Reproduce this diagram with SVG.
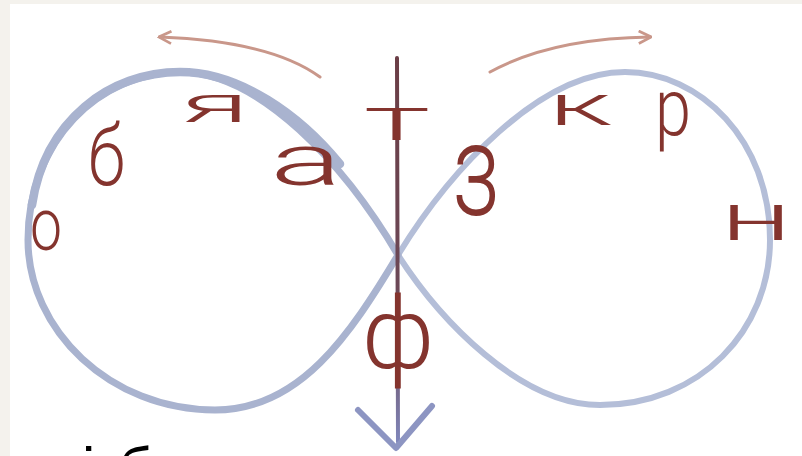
<svg xmlns="http://www.w3.org/2000/svg" width="802" height="456" viewBox="0 0 802 456">
  <style>
    .ltr { font-family: Roboto, "Open Sans", "Liberation Sans", sans-serif; font-weight: 300; fill: #84342e; }
    .loop { fill: none; stroke-linecap: round; stroke-linejoin: round; }
    .dir { fill: none; stroke: #c9978a; stroke-width: 3; stroke-linecap: round; }
  </style>
  <defs>
    <linearGradient id="axisGrad" x1="0" y1="60" x2="0" y2="445" gradientUnits="userSpaceOnUse">
      <stop offset="0" stop-color="#6b3e46"/>
      <stop offset="0.7" stop-color="#6c4a5a"/>
      <stop offset="1" stop-color="#8088bd"/>
    </linearGradient>
    <marker id="head" viewBox="0 0 12 12" refX="10" refY="6" markerWidth="5" markerHeight="5" orient="auto" markerUnits="strokeWidth">
      <path d="M1,1 L11,6 L1,11" fill="none" stroke="#c9978a" stroke-width="2.2"/>
    </marker>
  </defs>

  <rect x="0" y="0" width="802" height="456" fill="#f4f2ed"/>
  <rect x="10" y="4" width="792" height="452" fill="#ffffff"/>

  <g id="infinity-loop">
    <path class="loop" stroke="#b4bed8" stroke-width="6"
      d="M398,255 C440,320 520,405 600,405 C700,405 770,330 770,240 C770,140 700,72 625,72 C540,72 450,170 398,255"/>
    <path class="loop" stroke="#a9b3cf" stroke-width="7"
      d="M398,255 C350,335 300,410 215,410 C110,410 28,330 28,240 C28,140 100,72 180,72 C260,72 345,165 398,255"/>
    <path class="loop" stroke="#a9b3cf" stroke-width="8.5"
      d="M32,205 C45,120 110,72 180,72 C240,72 300,115 340,164"/>
  </g>

  <g id="connectors">
    <path class="dir" d="M320,77 C290,55 240,40 160,37" marker-end="url(#head)"/>
    <path class="dir" d="M490,72 C530,50 580,38 650,37" marker-end="url(#head)"/>
    <line x1="397" y1="58" x2="398" y2="442" stroke="url(#axisGrad)" stroke-width="4" stroke-linecap="round"/>
    <path d="M358,410 L396,448 L432,406" fill="none" stroke="#8d95c2" stroke-width="6" stroke-linecap="round" stroke-linejoin="round"/>
  </g>

  <g id="letters">
    <g id="n-o"><text class="ltr" x="30" y="250" font-size="75" textLength="32" lengthAdjust="spacingAndGlyphs">о</text></g>
    <g id="n-b"><text class="ltr" x="88" y="185" font-size="85" textLength="37" lengthAdjust="spacingAndGlyphs">б</text></g>
    <g id="n-ya"><text class="ltr" x="180" y="122" font-size="52" textLength="70" lengthAdjust="spacingAndGlyphs">я</text></g>
    <g id="n-a"><text class="ltr" x="270" y="185" font-size="72" textLength="72" lengthAdjust="spacingAndGlyphs">а</text></g>
    <g id="n-t"><text class="ltr" x="397" y="140" font-size="62" text-anchor="middle" textLength="66" lengthAdjust="spacingAndGlyphs">т</text></g>
    <g id="n-z"><text class="ltr" x="452" y="215" font-size="130" textLength="48" lengthAdjust="spacingAndGlyphs">з</text></g>
    <g id="n-k"><text class="ltr" x="548" y="125" font-size="57" textLength="64" lengthAdjust="spacingAndGlyphs">к</text></g>
    <g id="n-r"><text class="ltr" x="655" y="135" font-size="80" textLength="36" lengthAdjust="spacingAndGlyphs">р</text></g>
    <g id="n-n"><text class="ltr" x="720" y="240" font-size="66" textLength="72" lengthAdjust="spacingAndGlyphs">н</text></g>
    <g id="n-f"><text class="ltr" x="398" y="368" font-size="100" text-anchor="middle">ф</text></g>
  </g>

  <g id="caption">
    <text x="82" y="489" font-family="'Liberation Sans', Arial, sans-serif" font-size="60" fill="#000000" word-spacing="6">і б</text>
  </g>
</svg>
